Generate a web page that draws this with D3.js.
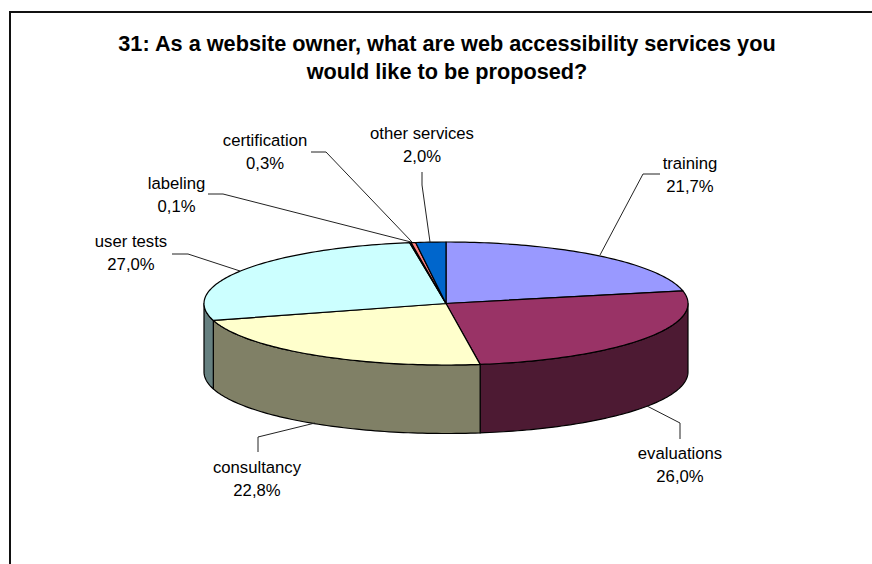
<!DOCTYPE html>
<html><head><meta charset="utf-8">
<script src="https://cdn.jsdelivr.net/npm/d3@7"></script>
<style>html,body{margin:0;padding:0;background:#fff}svg{display:block}</style>
</head><body><svg id="c" width="872" height="564"></svg>
<script>
const categories = ["training","evaluations","consultancy","user tests","labeling","certification","other services"];
const shares = [21.7,26.0,22.8,27.0,0.1,0.3,2.0];
const topColors = ["#9999FF","#993366","#FFFFCC","#CCFFFF","#660066","#FF8080","#0066CC"];
const sideColors = ["#4D4D80","#4D1A33","#808066","#668080","#330033","#804040","#003366"];
const titleLines = ["31: As a website owner, what are web accessibility services you","would like to be proposed?"];
const labelPos = [[690,169],[680,459],[257,473],[131,247],[176.5,189],[265,146],[422,139]];
const leaders = [
 [[600,255],[643,174],[660,174]],
 [[647,406],[680,423],[680,439]],
 [[315,423],[258,437],[258,452]],
 [[240,271],[188,254],[172,254]],
 [[411,242],[223,194],[208,194]],
 [[412,242],[326,152],[311,152]],
 [[430,242],[422,185],[422,172]]
];
const svg = d3.select("#c");
const font = "'Liberation Sans',Arial,sans-serif";
const cx=446, cy=303.5, rx=242, ry=61.5, depth=68.5;
const X = d3.scaleLinear().domain([-1,1]).range([cx-rx,cx+rx]);
const Y = d3.scaleLinear().domain([-1,1]).range([cy-ry,cy+ry]);
const pt = (t,dy=0)=>[X(Math.sin(t)),Y(-Math.cos(t))+dy];
const pie = d3.pie().sort(null).value(d=>d)(shares);
const line = d3.line();
const samples=(a,b)=>{const n=Math.max(2,Math.ceil((b-a)/0.02));return d3.range(n+1).map(i=>a+(b-a)*i/n);};

svg.append("path").attr("d",line([[10,564],[10,12],[872,12]])).attr("fill","none").attr("stroke","#111").attr("stroke-width",2);

// side walls
pie.forEach((p,i)=>{
  const a=Math.max(p.startAngle,Math.PI/2), b=Math.min(p.endAngle,3*Math.PI/2);
  if(b<=a) return;
  const ts=samples(a,b);
  const poly=ts.map(t=>pt(t)).concat(ts.slice().reverse().map(t=>pt(t,depth)));
  svg.append("path").attr("d",line(poly)+"Z").attr("fill",sideColors[i]).attr("stroke","#000").attr("stroke-width",1.2).attr("stroke-linejoin","round");
});
// top faces
pie.forEach((p,i)=>{
  const poly=[[cx,cy]].concat(samples(p.startAngle,p.endAngle).map(t=>pt(t)));
  svg.append("path").attr("d",line(poly)+"Z").attr("fill",topColors[i]).attr("stroke","#000").attr("stroke-width",1.2).attr("stroke-linejoin","round");
});
// leaders
leaders.forEach(l=>svg.append("path").attr("d",line(l)).attr("fill","none").attr("stroke","#222").attr("stroke-width",1));
// labels
categories.forEach((c,i)=>{
  const [x,y]=labelPos[i];
  const t=svg.append("text").attr("x",x).attr("y",y).attr("text-anchor","middle").attr("font-family",font).attr("font-size",16.7).attr("fill","#000");
  t.append("tspan").attr("x",x).text(c);
  t.append("tspan").attr("x",x).attr("dy",23).text(shares[i].toFixed(1).replace(".",",")+"%");
});
// title
titleLines.forEach((s,i)=>svg.append("text").attr("x",447).attr("y",[51,79][i]).attr("text-anchor","middle").attr("font-family",font).attr("font-size",21.7).attr("font-weight","bold").text(s));
</script></body></html>
